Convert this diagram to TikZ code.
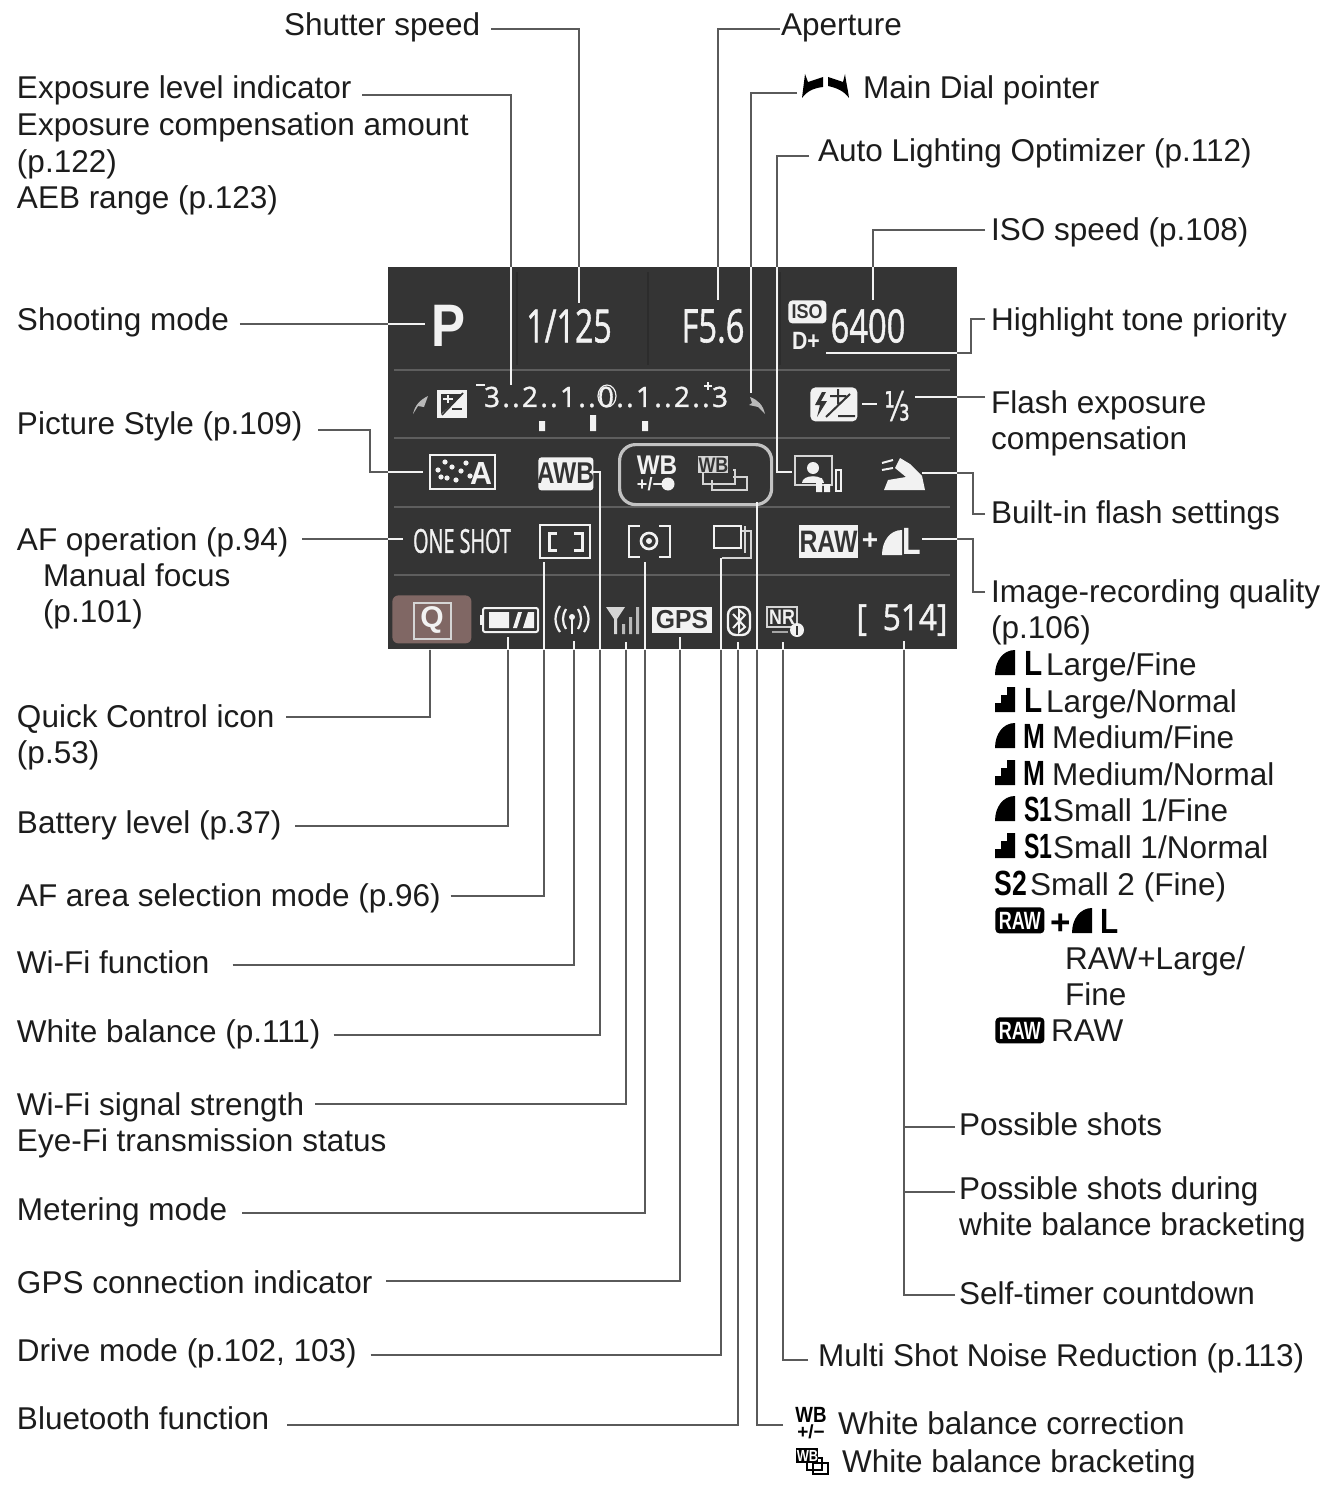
\documentclass[tikz,border=0pt]{standalone}
\usepackage{fontspec}
\usepackage{graphicx}
\setmainfont{Liberation Sans}
\newfontfamily\pf[FakeBold=1.3]{Open Sans}
\newfontfamily\djf[FakeBold=1]{DejaVu Sans}
\newcommand\lfont{\fontsize{15.75}{18.3}\selectfont}
\definecolor{ink}{HTML}{1C1C1C}
\definecolor{wire}{HTML}{5A5A5A}
\definecolor{panel}{HTML}{343434}
\definecolor{sep}{HTML}{5E5E5E}
\definecolor{cell}{HTML}{2C2C2C}
\definecolor{wht}{HTML}{F2F2F2}
\definecolor{qbg}{HTML}{806764}
\tikzset{
 lab/.style={anchor=base west,inner sep=0pt,text height=7pt,text depth=0pt,font=\lfont,text=ink},
 gap/.style={outer xsep=#1,xshift=-#1},
 conn/.style={draw=wire,line width=1.15pt},
 connw/.style={draw=wht,line width=1.15pt},
 pan/.style={inner sep=0pt,text=wht,anchor=center},
 outl/.style={draw=wht,line width=1.2pt},
 icon/.style={draw=wht!85!panel,line width=1.1pt},
}
% label with tabular: baseline of first line at y
\newcommand\lab[5][5pt]{\node[lab,gap=#1] (#2) at (#3,#4) {\begin{tabular}[t]{@{}l@{}}#5\end{tabular}};}
% panel text: name,x,y,xscale,size,text
\newcommand\pn[7][]{\node[pan,#1] (#2) at (#3,#4) {\scalebox{#5}[1]{\fontsize{#6}{#6}\selectfont #7}};}
% connector: grey outside the panel, white inside
\newcommand\cn[1]{\draw[conn] #1;\begin{scope}\clip (388,267) rectangle (957,649);\draw[connw] #1;\end{scope}}
% quality glyphs
\newcommand\qfine[3][black]{\fill[#1] (#2,#3) .. controls (#2,#3-14) and (#2+8,#3-25) .. (#2+20,#3-25) -- (#2+20,#3) -- cycle;}
\newcommand\qnorm[3][black]{\fill[#1] (#2,#3) -- (#2,#3-9) -- (#2+6,#3-9) -- (#2+6,#3-17) -- (#2+12,#3-17) -- (#2+12,#3-25) -- (#2+20,#3-25) -- (#2+20,#3) -- cycle;}
\newcommand\qsym[4][1]{\node[inner sep=0pt,anchor=base west,text=black] at (#2,#3) {\scalebox{#1}[1]{\fontsize{17.5}{18}\selectfont\bfseries #4}};}
\newcommand\kk{\kern1.18pt}
% two tight centred rows: width, first, second
\newcommand\tworows[3]{\vbox{\offinterlineskip\hbox to #1{\hss #2\hss}\kern1.5pt\hbox to #1{\hss #3\hss}}}
\begin{document}
\begin{tikzpicture}[x=0.5pt,y=-0.5pt]
\useasboundingbox (0,0) rectangle (1326,1487);
\fill[white] (0,0) rectangle (1326,1487);

%% panel
\node[fill=panel,minimum width=284.5pt,minimum height=191pt,inner sep=0pt,anchor=north west] (panel) at (388,267) {};
\foreach \yy in {370,438,507,575}{\draw[sep,line width=.9pt] (394,\yy) -- (950,\yy);}
\foreach \xx in {517,648,780}{\draw[cell,line width=1pt] (\xx,272) -- (\xx,365);}

%% top row
\pn[font=\bfseries]{pP}{449}{326}{.85}{30}{P}
\pn[font=\pf]{pShut}{569}{326}{.7}{23}{1/125}
\pn[font=\pf]{pAp}{713}{326}{.71}{23}{F5.6}
\node[fill=wht,rounded corners=2pt,minimum width=19pt,minimum height=11.5pt,inner sep=0pt,anchor=north west] (pIsoB) at (788,300) {};
\node[inner sep=0pt,text=panel] (pIso) at (807,311.5) {\fontsize{10}{10}\selectfont\bfseries\scalebox{.9}[1]{ISO}};
\pn{pD}{806}{341}{.85}{12.5}{\bfseries D+}
\pn[font=\pf]{pIsoV}{868}{326}{.71}{23}{6400}

%% exposure row
\fill[wht!70!panel] (413,414) .. controls (415,405) and (420,400) .. (428,396) -- (424,407) -- (418,406) -- cycle;
\draw[outl,fill=wht] (438,391) rectangle (466,417);
\fill[panel] (441,394) -- (441,414) -- (463,394) -- cycle;
\draw[wht,line width=.8pt] (443,399) -- (453,399) (448,395) -- (448,403);
\draw[panel,line width=1pt] (452,409) -- (462,409);
\draw[panel,line width=.8pt] (442,415) -- (463,393);
\node[pan,font=\pf] (pScale) at (606,397) {\fontsize{14}{14}\selectfont 3\kk.\kk.\kk 2\kk.\kk.\kk 1\kk.\kk.\kk 0\kk.\kk.\kk 1\kk.\kk.\kk 2\kk.\kk.\kk 3};
\draw[wht,line width=.6pt] (607,396) ellipse (9 and 11);
\draw[wht,line width=.8pt] (476,385) -- (485,385) (704,386) -- (712,386) (708,382) -- (708,390);
\fill[wht] (539,421) rectangle (545,431) (590,415) rectangle (596,431) (642,421) rectangle (648,431);
\fill[wht!70!panel] (765,414) .. controls (763,405) and (758,400) .. (750,397) -- (752,403) -- (749,405) -- (758,407) -- cycle;
\node[fill=wht,rounded corners=2.5pt,minimum width=23.5pt,minimum height=17pt,inner sep=0pt,anchor=north west] (pFlashB) at (810,387) {};
\fill[panel] (822,392) -- (815,405) -- (820,405) -- (817,417) -- (827,401) -- (821,401) -- (826,392) -- cycle;
\draw[panel,line width=1pt] (830,396) -- (846,396) (838,389) -- (838,404) (826,417) -- (850,394) (838,416) -- (855,416);
\draw[wht,line width=1.2pt] (862,404) -- (877,404);
\node[pan,font=\djf] (pThird) at (897,406) {\scalebox{.65}[1]{\fontsize{20}{20}\selectfont ⅓}};

%% picture style row
\draw[outl] (430,455) rectangle (495,489);
\foreach \a/\b in {438/470,445/462,452/467,456/480,447/478,461/471,466/463,470/476,441/477}{\fill[wht] (\a,\b) circle (2.6);}
\pn{pPS}{481}{473}{.95}{16}{\bfseries A}
\node[fill=wht,rounded corners=1.5pt,minimum width=27.5pt,minimum height=16.5pt,inner sep=0pt,anchor=north west] (pAWBb) at (538,457) {};
\node[inner sep=0pt,text=panel] (pAWB) at (565.5,473.5) {\scalebox{.82}[1]{\fontsize{15}{15}\selectfont\bfseries AWB}};
\node[draw=wht!75!panel,line width=1.6pt,rounded corners=8pt,minimum width=76pt,minimum height=30pt,inner sep=0pt,anchor=north west] (pWBbox) at (618,443) {};
\node[pan,font=\bfseries] (pWB) at (657,473) {\tworows{20pt}{\fontsize{13.5}{8}\selectfont\scalebox{.9}[1]{WB}}{\fontsize{9}{8}\selectfont +/−\kern7pt}};
\fill[wht] (668,484) circle (6.5);
\draw[wht!85!panel,line width=1.1pt] (703,470) rectangle (735,484) (712,477) rectangle (747,490);
\fill[panel] (709,466) rectangle (733,480);
\node[fill=wht!85!panel,inner sep=0pt,minimum width=15pt,minimum height=8.5pt,anchor=north west,text=panel] (pWB2) at (698,456) {\scalebox{.85}[1]{\fontsize{10.5}{10.5}\selectfont\bfseries WB}};
\draw[icon] (795,456) rectangle (832,485);
\fill[wht] (813,468) circle (6);
\fill[wht] (802,483) .. controls (802,474) and (824,474) .. (824,483) -- cycle;
\fill[wht] (816,478) rectangle (822,492) (824,484) rectangle (830,492);
\draw[wht,line width=.8pt] (836,470) rectangle (841,491);
\fill[wht] (900,458) -- (910,464) -- (922,476) -- (925,490) -- (884,490) -- (888,480) -- (906,477) -- (895,468) -- cycle;
\draw[wht,line width=1pt] (882,463) -- (893,460) (882,470) -- (893,468);

%% AF row
\pn[font=\pf]{pOne}{462}{541}{.6}{16.5}{ONE SHOT}
\draw[outl] (540,525) rectangle (590,558);
\draw[wht,line width=1.5pt] (557,533) -- (549,533) -- (549,550) -- (557,550) (574,533) -- (582,533) -- (582,550) -- (574,550);
\draw[wht,line width=1.2pt] (640,526) -- (629,526) -- (629,557) -- (640,557) (659,526) -- (670,526) -- (670,557) -- (659,557);
\draw[wht,line width=1.3pt] (649,541) circle (8);
\fill[wht] (649,541) circle (3);
\draw[icon] (722,531) -- (751,531) -- (751,558) -- (722,558);
\draw[icon] (745,526) -- (745,553);
\draw[wht,line width=1.4pt,fill=panel] (714,526) rectangle (741,548);
\node[fill=wht,minimum width=29.5pt,minimum height=16.5pt,inner sep=0pt,anchor=north west] (pRawB) at (799,525) {};
\node[inner sep=0pt,text=panel] (pRaw) at (828.5,541.5) {\scalebox{.8}[1]{\fontsize{15.5}{15.5}\selectfont\bfseries RAW}};
\pn{pPlus}{870}{541}{1}{14}{\bfseries +}
\qfine[wht]{882}{555}
\pn{pL}{912}{541}{.8}{19}{\bfseries L}

%% bottom row
\node[fill=qbg,rounded corners=3pt,minimum width=39.5pt,minimum height=24pt,inner sep=0pt,anchor=north west] (pQbg) at (392,595) {};
\draw[icon] (414,603) rectangle (451,639);
\pn{pQ}{432}{620}{1}{15}{\bfseries Q}
\draw[wht,line width=1pt,rounded corners=1pt] (483,608) rectangle (538,632);
\fill[wht] (480,615) rectangle (483,625);
\fill[wht] (489,612) rectangle (509,628) (513,628) -- (518,612) -- (522,612) -- (517,628) -- cycle (523,628) -- (528,612) -- (534,612) -- (534,628) -- cycle;
\draw[wht,line width=1.1pt] (566,609) .. controls (562,615) and (562,623) .. (566,629) (560,606) .. controls (554,614) and (554,624) .. (560,632) (578,609) .. controls (582,615) and (582,623) .. (578,629) (584,606) .. controls (590,614) and (590,624) .. (584,632);
\fill[wht] (572,617) circle (3); \draw[wht,line width=1.2pt] (572,617) -- (572,634);
\fill[wht!85!panel] (606,607) -- (625,607) -- (617,619) -- (617,634) -- (614,634) -- (614,619) -- cycle;
\fill[wht!70!panel] (622,624) rectangle (625,634) (629,617) rectangle (632,634) (636,607) rectangle (639,634);
\node[fill=wht,minimum width=30pt,minimum height=13pt,inner sep=0pt,anchor=north west] (pGPSb) at (652,607) {};
\node[inner sep=0pt,text=panel] (pGPS) at (682,620) {\scalebox{.95}[1]{\fontsize{13}{13}\selectfont\bfseries GPS}};
\draw[wht,line width=1.2pt,rounded corners=4pt] (728,607) rectangle (750,635);
\draw[wht,line width=1pt] (733,614) -- (745,627) -- (739,632) -- (739,610) -- (745,615) -- (733,628);
\draw[icon] (767,607) rectangle (797,627);
\pn{pNR}{782}{617}{.85}{10.5}{\bfseries NR}
\fill[wht] (797,630) circle (7);
\draw[panel,line width=1pt] (797,626) -- (797,635);
\draw[wht!60!panel,line width=.8pt] (772,632) -- (788,632);
\pn[font=\pf]{pShots}{902}{620}{.88}{18}{[\kern9pt 514]}

%% labels, left
\lab[5.5pt]{lShut}{284}{36}{Shutter speed}
\lab{lExp}{17}{99}{Exposure level indicator\\Exposure compensation amount\\(p.122)\\AEB range (p.123)}
\lab[5.5pt]{lMode}{17}{330}{Shooting mode}
\lab[8pt]{lPS}{17}{434}{Picture Style (p.109)}
\lab[7pt]{lAF}{17}{550}{AF operation (p.94)}
\lab{lMF}{43}{586}{Manual focus\\(p.101)}
\lab[6pt]{lQ}{17}{727}{Quick Control icon\\(p.53)}
\lab[7pt]{lBat}{17}{833}{Battery level (p.37)}
\lab[5pt]{lArea}{17}{906}{AF area selection mode (p.96)}
\lab[11.5pt]{lWifi}{17}{973}{Wi-Fi function}
\lab[6.5pt]{lWB}{17}{1042}{White balance (p.111)}
\lab{lSig}{17}{1115}{Wi-Fi signal strength\\Eye-Fi transmission status}
\lab[7.5pt]{lMet}{17}{1220}{Metering mode}
\lab[7pt]{lGPS}{17}{1293}{GPS connection indicator}
\lab[7pt]{lDrv}{17}{1361}{Drive mode (p.102, 103)}
\lab[9pt]{lBT}{17}{1429}{Bluetooth function}

%% labels, right
\lab[.5pt]{lAp}{781}{36}{Aperture}
\lab{lDial}{863}{99}{Main Dial pointer}
\lab[4.5pt]{lAuto}{818}{162}{Auto Lighting Optimizer (p.112)}
\lab[3pt]{lISO}{991}{241}{ISO speed (p.108)}
\lab[3pt]{lHi}{991}{330}{Highlight tone priority}
\lab[3pt]{lFl}{991}{413}{Flash exposure\\compensation}
\lab[3pt]{lBF}{991}{523}{Built-in flash settings}
\lab[3pt]{lIQ}{991}{602}{Image-recording quality\\(p.106)}
\lab{lLF}{1046}{675}{Large/Fine}
\lab{lLN}{1046}{712}{Large/Normal}
\lab{lMFi}{1052}{748}{Medium/Fine}
\lab{lMN}{1052}{785}{Medium/Normal}
\lab{lS1F}{1053}{821}{Small 1/Fine}
\lab{lS1N}{1053}{858}{Small 1/Normal}
\lab{lS2}{1030}{895}{Small 2 (Fine)}
\lab{lRL}{1065}{969}{RAW+Large/\\Fine}
\lab{lRaw}{1051}{1041}{RAW}
\lab[2pt]{lPoss}{959}{1135}{Possible shots}
\lab[2pt]{lPB}{959}{1199}{Possible shots during\\white balance bracketing}
\lab[2pt]{lSelf}{959}{1304}{Self-timer countdown}
\lab{lNR}{818}{1366}{Multi Shot Noise Reduction (p.113)}
\lab{lWBc}{838}{1434}{White balance correction}
\lab{lWBb}{842}{1472}{White balance bracketing}

%% quality glyphs
\qfine{995}{675}\qsym[.85]{1024}{675}{L}
\qnorm{995}{712}\qsym[.85]{1024}{712}{L}
\qfine{995}{748}\qsym[.75]{1023}{748}{M}
\qnorm{995}{785}\qsym[.75]{1023}{785}{M}
\qfine{995}{821}\qsym[.66]{1024}{821}{S1}
\qnorm{995}{858}\qsym[.66]{1024}{858}{S1}
\qsym[.76]{994}{895}{S2}
\node[fill=black,rounded corners=2pt,minimum width=24.5pt,minimum height=13pt,inner sep=0pt,anchor=north west,text=white] (qRaw1) at (995,907) {\scalebox{.72}[1]{\fontsize{12.5}{12.5}\selectfont\bfseries RAW}};
\qsym{1050}{934}{+}
\qfine{1072}{933}\qsym[.85]{1100}{933}{L}
\node[fill=black,rounded corners=2pt,minimum width=24.5pt,minimum height=13pt,inner sep=0pt,anchor=north west,text=white] (qRaw2) at (995,1017) {\scalebox{.72}[1]{\fontsize{12.5}{12.5}\selectfont\bfseries RAW}};

%% dial pointer
\fill[black] (802,98) .. controls (803,90) and (804,82) .. (805,74) -- (808,82) -- (823,77) -- (823,87) .. controls (814,88) and (807,91) .. (802,98) -- cycle;
\fill[black] (849,98) .. controls (848,90) and (846,82) .. (845,74) -- (843,82) -- (828,77) -- (828,86) .. controls (837,88) and (844,91) .. (849,98) -- cycle;

%% bottom WB icons
\node[inner sep=0pt,anchor=center,text=black,font=\bfseries] (iWB) at (811,1423) {\tworows{15pt}{\fontsize{11}{6.5}\selectfont\scalebox{.85}[1]{WB}}{\fontsize{9.5}{6.5}\selectfont +/−}};
\draw[black,line width=.7pt] (807,1458) rectangle (822,1470) (813,1463) rectangle (828,1474);
\node[fill=black,text=white,inner sep=0pt,minimum width=11pt,minimum height=7.5pt,anchor=north west] (iWB2) at (796,1448) {\scalebox{.8}[1]{\fontsize{8}{8}\selectfont\bfseries WB}};

%% connector ends
\coordinate (sExp) at (362,95);
\coordinate (sSig) at (315,1104);
\coordinate (sDial) at (797,93);
\coordinate (eShut) at (579,303);
\coordinate (eExp) at (511,385);
\coordinate (eAp) at (718,300);
\coordinate (eDial) at (751,393);
\coordinate (eAuto) at (792,472);
\coordinate (eISO) at (873,300);
\coordinate (eHi) at (826,353);
\coordinate (eFl) at (915,397);
\coordinate (eBF) at (922,473);
\coordinate (eIQ) at (922,539);
\coordinate (eMode) at (425,324);
\coordinate (ePS) at (423,472);
\coordinate (eAF) at (403,539);
\coordinate (eQ) at (430,649);
\coordinate (eBat) at (508,637);
\coordinate (eArea) at (544,562);
\coordinate (eWifi) at (574,641);
\coordinate (eWB) at (590,472);
\coordinate (eSig) at (626,642);
\coordinate (eMet) at (645,562);
\coordinate (eGPS) at (680,637);
\coordinate (eDrv) at (721,558);
\coordinate (eBT) at (738,642);
\coordinate (eBox) at (757,502);
\coordinate (eNR) at (783,642);
\coordinate (eShots) at (904,641);
\coordinate (jPoss) at (904,1127);
\coordinate (jPB) at (904,1192);

%% connectors
\cn{(lShut.east |- 0,29) -| (eShut)}
\cn{(sExp) -| (eExp)}
\cn{(lAp.west |- 0,29) -| (eAp)}
\cn{(sDial) -| (eDial)}
\cn{(lAuto.west |- 0,156) -- (777,156) |- (eAuto)}
\cn{(lISO.west |- 0,230) -| (eISO)}
\cn{(lHi.west |- 0,319) -- (971,319) |- (eHi)}
\cn{(lFl.west |- 0,397) -- (eFl)}
\cn{(lBF.west |- 0,514) -- (973,514) |- (eBF)}
\cn{(lIQ.west |- 0,592) -- (973,592) |- (eIQ)}
\cn{(lMode.east |- 0,324) -- (eMode)}
\cn{(lPS.east |- 0,430) -- (370,430) |- (ePS)}
\cn{(lAF.east |- 0,539) -- (eAF)}
\cn{(lQ.east |- 0,717) -| (eQ)}
\cn{(lBat.east |- 0,826) -| (eBat)}
\cn{(lArea.east |- 0,896) -| (eArea)}
\cn{(lWifi.east |- 0,965) -| (eWifi)}
\cn{(lWB.east |- 0,1035) -- (600,1035) |- (eWB)}
\cn{(sSig) -| (eSig)}
\cn{(lMet.east |- 0,1213) -| (eMet)}
\cn{(lGPS.east |- 0,1281) -| (eGPS)}
\cn{(lDrv.east |- 0,1355) -| (eDrv)}
\cn{(lBT.east |- 0,1425) -| (eBT)}
\cn{(lWBc.west |- 0,1425) ++(-45,0) -| (eBox)}
\cn{(lNR.west |- 0,1360) -| (eNR)}
\cn{(lSelf.west |- 0,1295) -| (eShots)}
\draw[conn] (jPoss) -- (lPoss.west |- jPoss);
\draw[conn] (jPB) -- (lPB.west |- jPB);
\end{tikzpicture}
\end{document}
